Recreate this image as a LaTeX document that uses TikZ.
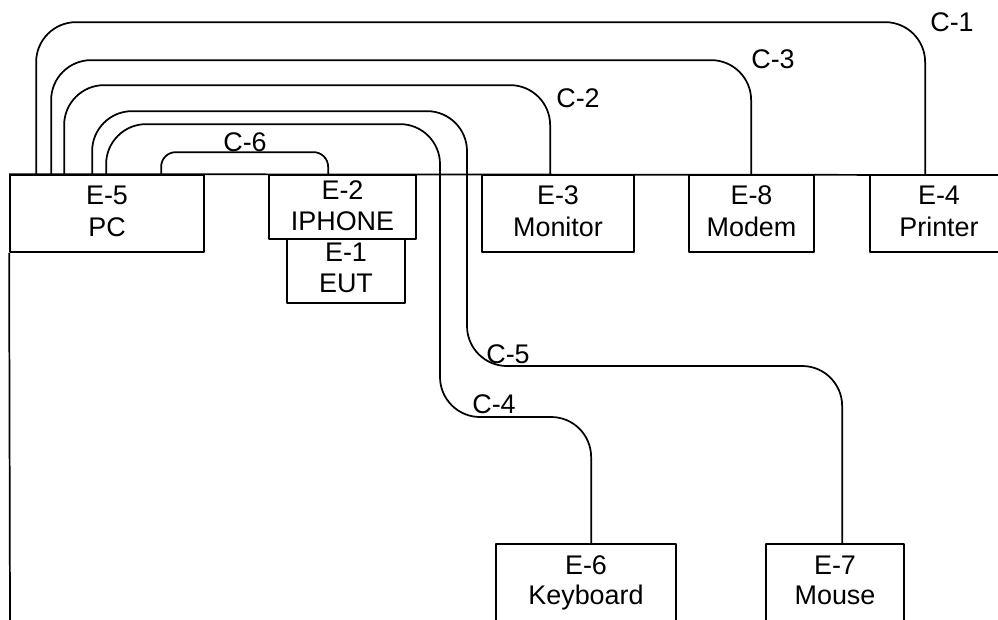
\documentclass[tikz,border=0pt]{standalone}
\usepackage{fontspec}
\setmainfont{Liberation Sans}
\usetikzlibrary{fit,calc}
\begin{document}
\begin{tikzpicture}[x=0.75pt,y=-0.75pt,
  line width=1.3pt, line join=round,
  unit/.style={draw, inner sep=0pt},
  txt/.style={inner sep=0pt, anchor=base, font=\fontsize{20.2}{24}\selectfont},
  cable/.style={rounded corners=30pt},
  shortcable/.style={rounded corners=11pt},
  tag/.style={inner sep=0pt, font=\fontsize{20.2}{24}\selectfont}]
\useasboundingbox (0,0) rectangle (998,619);
\clip (0,0) rectangle (998,619);

% equipment boxes
\node[unit, fit={(10,175) (204,252)}]   (e5) {};
\node[unit, fit={(269,175) (416,239)}]  (e2) {};
\node[unit, fit={(287,239) (405,303)}]  (e1) {};
\node[unit, fit={(482,175) (634,252)}]  (e3) {};
\node[unit, fit={(689,175) (814,252)}]  (e8) {};
\node[unit, fit={(870,175) (1008,252)}] (e4) {};
\node[unit, fit={(496,544) (676,622)}]  (e6) {};
\node[unit, fit={(766,544) (904,622)}]  (e7) {};

% box captions (two lines each)
\node[txt] (e5a) at ($(e5.north)+(0,30)$) {E-5};
\node[txt] (e5b) at ($(e5.north)+(0,62)$) {PC};
\node[txt] (e2a) at ($(e2.north)+(0,25)$) {E-2};
\node[txt] (e2b) at ($(e2.north)+(0,56)$) {IPHONE};
\node[txt] (e1a) at ($(e1.north)+(0,23)$) {E-1};
\node[txt] (e1b) at ($(e1.north)+(0,54)$) {EUT};
\node[txt] (e3a) at ($(e3.north)+(0,30)$) {E-3};
\node[txt] (e3b) at ($(e3.north)+(0,62)$) {Monitor};
\node[txt] (e8a) at ($(e8.north)+(0,30)$) {E-8};
\node[txt] (e8b) at ($(e8.north)+(0,62)$) {Modem};
\node[txt] (e4a) at ($(e4.north)+(0,30)$) {E-4};
\node[txt] (e4b) at ($(e4.north)+(0,62)$) {Printer};
\node[txt] (e6a) at ($(e6.north)+(0,31)$) {E-6};
\node[txt] (e6b) at ($(e6.north)+(0,61)$) {Keyboard};
\node[txt] (e7a) at ($(e7.north)+(0,31)$) {E-7};
\node[txt] (e7b) at ($(e7.north)+(0,61)$) {Mouse};

% table edge lines
\coordinate (edgeR) at (1000,175);
\coordinate (edgeB) at (10,622);
\draw (e5.north west) -- (edgeR);
\draw (e5.south west) -- (edgeB);

% cable bends
\coordinate (c4bend) at (440,417);
\coordinate (c5bend) at (467,366);

% cables
\draw[cable] ($(e5.north west)+(27,0)$) -- ++(0,-152) -| ($(e4.north west)+(56,0)$);
\draw[cable] ($(e5.north west)+(42,0)$) -- ++(0,-114) -| ($(e8.north west)+(63,0)$);
\draw[cable] ($(e5.north west)+(55,0)$) -- ++(0,-89) -| ($(e3.north west)+(69,0)$);
\draw[cable] ($(e5.north west)+(83,0)$) -- ++(0,-63) -| (c5bend) -| ($(e7.north west)+(77,0)$);
\draw[cable] ($(e5.north west)+(97,0)$) -- ++(0,-50) -| (c4bend) -| ($(e6.north west)+(96,0)$);
\draw[shortcable] ($(e5.north west)+(152,0)$) -- ++(0,-22) -| ($(e2.north west)+(60,0)$);

% cable labels
\node[tag] (l1) at (952,22)  {C-1};
\node[tag] (l3) at (773,59)  {C-3};
\node[tag] (l2) at (578,98)  {C-2};
\node[tag] (l6) at (245,142) {C-6};
\node[tag] (l5) at (508,354) {C-5};
\node[tag] (l4) at (494,404) {C-4};
\end{tikzpicture}
\end{document}
